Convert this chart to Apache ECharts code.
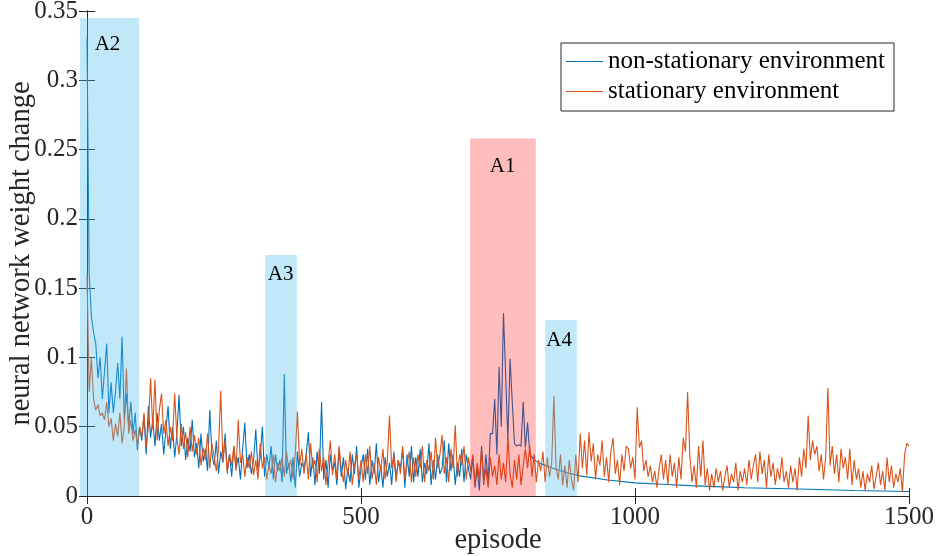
<!DOCTYPE html>
<html>
<head>
<meta charset="utf-8">
<script src="https://cdn.jsdelivr.net/npm/echarts@6/dist/echarts.min.js"></script>
<style>
  html, body { margin: 0; padding: 0; background: #fff; }
  #main { width: 936px; height: 556px; }
</style>
</head>
<body>
<div id="main"></div>
<script>
// episode spacing of the sampled values
var stepEp = 4;

// stationary environment, one value every 4 episodes, 0..1500
var stationary = [
  .16, .075, .1, .07, .062, .066, .058, .06, .055, .068, .05, .056, .04, .052, .043, .06, .038, .05, .092, .045, .055, .04, .048, .036, .05,
  .042, .06, .035, .05, .085, .048, .084, .04, .062, .074, .045, .055, .036, .05, .04, .074, .042, .03, .052, .034, .046, .028, .05, .032, .044,
  .03, .042, .022, .035, .026, .045, .02, .038, .028, .018, .034, .076, .025, .04, .016, .03, .022, .036, .018, .055, .024, .03, .014, .028, .02,
  .032, .015, .026, .012, .038, .02, .028, .012, .022, .016, .03, .01, .024, .018, .028, .014, .032, .02, .026, .012, .03, .061, .022, .034, .016,
  .03, .012, .038, .02, .026, .01, .034, .018, .028, .008, .024, .04, .015, .03, .012, .036, .02, .01, .026, .014, .032, .008, .022, .03, .012,
  .026, .01, .03, .016, .036, .012, .024, .008, .028, .018, .034, .012, .025, .058, .02, .03, .01, .026, .016, .036, .012, .022, .032, .01, .028,
  .014, .03, .02, .036, .01, .026, .018, .032, .012, .042, .02, .03, .044, .016, .028, .01, .034, .02, .051, .014, .03, .022, .036, .012, .028,
  .018, .03, .008, .024, .012, .034, .01, .02, .006, .028, .014, .022, .008, .03, .012, .024, .01, .042, .016, .006, .026, .012, .03, .008, .022,
  .034, .02, .036, .014, .03, .01, .026, .018, .032, .01, .028, .014, .024, .072, .02, .012, .03, .008, .022, .006, .026, .012, .004, .03, .01,
  .045, .02, .04, .015, .046, .025, .038, .012, .03, .022, .04, .014, .028, .01, .032, .042, .016, .026, .008, .03, .018, .036, .034, .02, .028,
  .012, .064, .035, .04, .018, .026, .014, .022, .01, .018, .006, .02, .03, .012, .026, .008, .03, .014, .024, .006, .028, .012, .042, .032, .075,
  .03, .01, .022, .006, .036, .014, .04, .008, .02, .004, .016, .006, .02, .01, .018, .004, .014, .022, .006, .016, .01, .024, .004, .018, .01,
  .02, .008, .026, .012, .022, .03, .01, .032, .016, .026, .006, .03, .014, .024, .008, .02, .012, .028, .01, .018, .006, .022, .01, .02, .004,
  .028, .014, .034, .02, .058, .026, .04, .03, .036, .018, .03, .012, .028, .078, .022, .036, .016, .03, .01, .034, .02, .028, .012, .034, .008,
  .026, .012, .02, .006, .018, .004, .016, .01, .022, .005, .014, .024, .008, .018, .004, .028, .01, .022, .006, .016, .01, .02, .003, .03, .038, .036
];

// non-stationary environment, one value every 4 episodes, 0..812
var nonStationary = [
  .33, .16, .13, .118, .11, .085, .1, .07, .09, .11, .06, .082, .06, .075, .096, .07, .115, .055, .074, .05, .068, .045, .06, .033, .05,
  .04, .058, .03, .065, .042, .055, .036, .06, .04, .052, .03, .048, .065, .034, .05, .028, .044, .073, .036, .05, .026, .042, .032, .055, .028,
  .038, .02, .045, .025, .034, .018, .062, .03, .022, .04, .016, .032, .024, .045, .018, .03, .014, .036, .02, .028, .012, .034, .053, .02, .03,
  .016, .026, .048, .018, .028, .05, .014, .03, .02, .036, .012, .03, .018, .026, .01, .088, .016, .024, .01, .028, .006, .032, .014, .024, .02,
  .03, .046, .014, .028, .008, .032, .016, .068, .012, .026, .006, .03, .018, .024, .008, .034, .014, .028, .005, .02, .01, .03, .016, .036, .006,
  .02, .03, .012, .034, .008, .026, .016, .038, .01, .022, .006, .028, .014, .024, .008, .032, .012, .026, .02, .034, .006, .03, .014, .036, .01,
  .028, .014, .034, .01, .024, .016, .038, .008, .026, .012, .03, .016, .02, .04, .01, .038, .018, .03, .008, .024, .014, .034, .01, .03, .02,
  .012, .028, .006, .02, .004, .036, .008, .03, .01, .045, .045, .07, .03, .093, .05, .132, .087, .04, .099, .068, .038, .036, .037, .036, .068,
  .035, .053, .03, .028
];

// smooth tail of the non-stationary run after episode 812
var tailEpisodes = [816, 830, 850, 875, 900, 950, 1000, 1050, 1100, 1150, 1200, 1300, 1400, 1500];
var tailValues = [.026, .023, .02, .017, .0145, .0115, .0095, .0085, .0075, .0068, .006, .005, .004, .0033];

// shaded regions
var regionNames = ['A2', 'A3', 'A1', 'A4'];
var regionStart = [-13, 325, 699, 836];
var regionEnd = [95, 383, 819, 894];
var regionTop = [0.345, 0.174, 0.258, 0.127];
var labelEp = [14, 330, 735, 838];
var labelVal = [0.3255, 0.16, 0.238, 0.112];
var regionKind = [0, 0, 1, 0];

var xTicks = ['0', '500', '1000', '1500'];
var yTickLabels = ['0', '0.05', '0.1', '0.15', '0.2', '0.25', '0.3', '0.35'];

var nonName = 'non-stationary environment';
var statName = 'stationary environment';

var statData = stationary.map(function (v, i) { return [i * stepEp, v]; });
var nonData = nonStationary.map(function (v, i) { return [i * stepEp, v]; });
for (var k = 0; k < tailEpisodes.length; k++) {
  nonData.push([tailEpisodes[k], tailValues[k]]);
}
var regionData = regionNames.map(function (n, i) {
  return [regionStart[i], regionEnd[i], regionTop[i], labelEp[i], labelVal[i], i];
});

var fontFam = 'Liberation Serif';
var axisCol = '#262626';
var fills = ['rgba(77,190,238,0.35)', 'rgba(255,0,0,0.26)'];

var chart = echarts.init(document.getElementById('main'));
var option = {
  animation: false,
  textStyle: { fontFamily: fontFam },
  grid: { left: 87, right: 27, top: 11, bottom: 60, show: false, containLabel: false, outerBoundsMode: 'none' },
  legend: {
    data: [nonName, statName],
    orient: 'vertical',
    left: 561, top: 43,
    padding: [6, 9, 7, 5],
    itemGap: 5,
    icon: 'rect',
    itemWidth: 37,
    itemHeight: 1.2,
    borderColor: axisCol,
    borderWidth: 1,
    backgroundColor: '#fff',
    textStyle: { fontFamily: fontFam, fontSize: 25, color: '#000', lineHeight: 25 }
  },
  xAxis: [{
    type: 'value', min: 0, max: 1500, interval: 500,
    name: 'episode', nameLocation: 'middle', nameGap: 30, nameMoveOverlap: false,
    nameTextStyle: { fontFamily: fontFam, fontSize: 28.5, color: axisCol },
    axisLine: { show: true, lineStyle: { color: axisCol, width: 1 } },
    axisTick: { show: true, inside: true, length: 8, lineStyle: { color: axisCol } },
    axisLabel: { fontFamily: fontFam, fontSize: 25, color: axisCol, margin: 9,
      formatter: function (v) { return xTicks[Math.round(v / 500)]; } },
    splitLine: { show: false }
  }, {
    type: 'value', min: 0, max: 1500, interval: 500, position: 'top',
    axisLine: { show: true, lineStyle: { color: axisCol, width: 1 } },
    axisTick: { show: true, inside: true, length: 8, lineStyle: { color: axisCol } },
    axisLabel: { show: false }, splitLine: { show: false }
  }],
  yAxis: [{
    type: 'value', min: 0, max: 0.35, interval: 0.05,
    name: 'neural network weight change', nameLocation: 'middle', nameGap: 51, nameMoveOverlap: false,
    nameTextStyle: { fontFamily: fontFam, fontSize: 28.5, color: axisCol },
    axisLine: { show: true, lineStyle: { color: axisCol, width: 1 } },
    axisTick: { show: true, inside: true, length: 8, lineStyle: { color: axisCol } },
    axisLabel: { fontFamily: fontFam, fontSize: 25, color: axisCol, margin: 9,
      formatter: function (v) { return yTickLabels[Math.round(v / 0.05)]; } },
    splitLine: { show: false }
  }, {
    type: 'value', min: 0, max: 0.35, interval: 0.05, position: 'right',
    axisLine: { show: true, lineStyle: { color: axisCol, width: 1 } },
    axisTick: { show: true, inside: true, length: 8, lineStyle: { color: axisCol } },
    axisLabel: { show: false }, splitLine: { show: false }
  }],
  series: [{
    name: nonName, type: 'line', data: nonData, symbol: 'none',
    lineStyle: { color: '#0072BD', width: 1.1 }, itemStyle: { color: '#0072BD' }, z: 2
  }, {
    name: statName, type: 'line', data: statData, symbol: 'none',
    lineStyle: { color: '#D95319', width: 1.1 }, itemStyle: { color: '#D95319' }, z: 2
  }, {
    type: 'custom', z: 10, clip: false, silent: true,
    data: regionData,
    encode: { x: [0, 1], y: 2 },
    renderItem: function (params, api) {
      var tl = api.coord([api.value(0), api.value(2)]);
      var br = api.coord([api.value(1), 0]);
      var lp = api.coord([api.value(3), api.value(4)]);
      var idx = api.value(5);
      return {
        type: 'group',
        children: [{
          type: 'rect',
          shape: { x: tl[0], y: tl[1], width: br[0] - tl[0], height: br[1] - tl[1] },
          style: { fill: fills[regionKind[idx]] }
        }, {
          type: 'text',
          style: { x: lp[0], y: lp[1], text: regionNames[idx], fill: '#000',
            font: '21px "Liberation Serif"', textAlign: 'left', textVerticalAlign: 'middle' }
        }]
      };
    }
  }]
};
chart.setOption(option);
</script>
</body>
</html>
